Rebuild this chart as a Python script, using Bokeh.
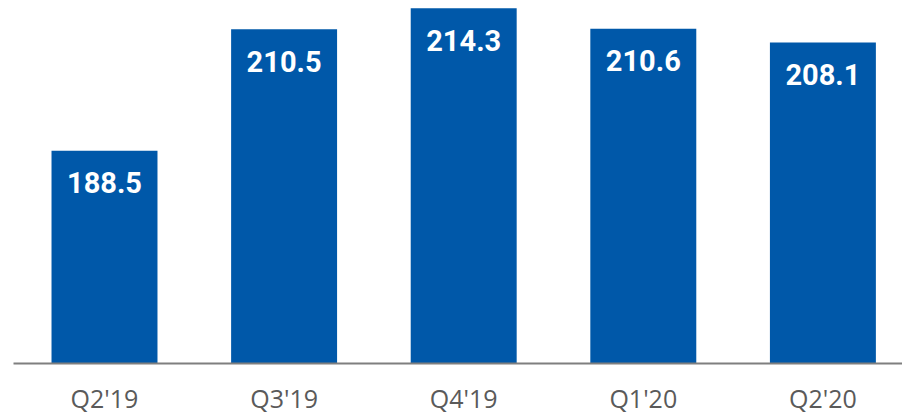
from bokeh.plotting import figure
from bokeh.models import Range1d, ColumnDataSource
from bokeh.core.properties import value
from bokeh.embed import file_html
from bokeh.resources import INLINE

quarters = ["Q2'19", "Q3'19", "Q4'19", "Q1'20", "Q2'20"]
values = [188.5, 210.5, 214.3, 210.6, 208.1]
labels = ["188.5", "210.5", "214.3", "210.6", "208.1"]
base = 150

xs = list(range(len(quarters)))
src = ColumnDataSource(dict(x=xs, top=values, lab=labels, q=quarters,
                            base=[base] * len(xs)))

W, H = 902, 415
xscale = 179.6          # px per category
x0 = -104 / xscale
yscale = 5.525          # px per unit
base_px = 363
y0 = base - (H - base_px) / yscale
y1 = base + base_px / yscale

p = figure(width=W, height=H, output_backend="svg", toolbar_location=None,
           x_range=Range1d(x0, x0 + W / xscale), y_range=Range1d(y0, y1),
           min_border_left=0, min_border_right=0, min_border_top=0, min_border_bottom=0)
p.outline_line_color = None
p.grid.visible = False
p.axis.visible = False
p.background_fill_color = "white"
p.border_fill_color = "white"

p.vbar(x="x", top="top", bottom=base, width=0.59, source=src,
       fill_color="#0058A9", line_color=None)
p.segment(x0=[(13 - 104) / xscale], y0=[base], x1=[x0 + W / xscale + 1], y1=[base],
          line_color="#7f7f7f", line_width=2)
p.text(x="x", y="top", text="lab", source=src, y_offset=32,
       text_align="center", text_baseline="middle", text_color="white",
       text_font=value("Roboto"), text_font_style="bold", text_font_size="29px")
p.text(x="x", y="base", text="q", source=src, y_offset=34,
       text_align="center", text_baseline="middle", text_color="#5a5a5a",
       text_font=value("Open Sans"), text_font_size="25px")

open("out.html", "w").write(file_html(p, INLINE))
